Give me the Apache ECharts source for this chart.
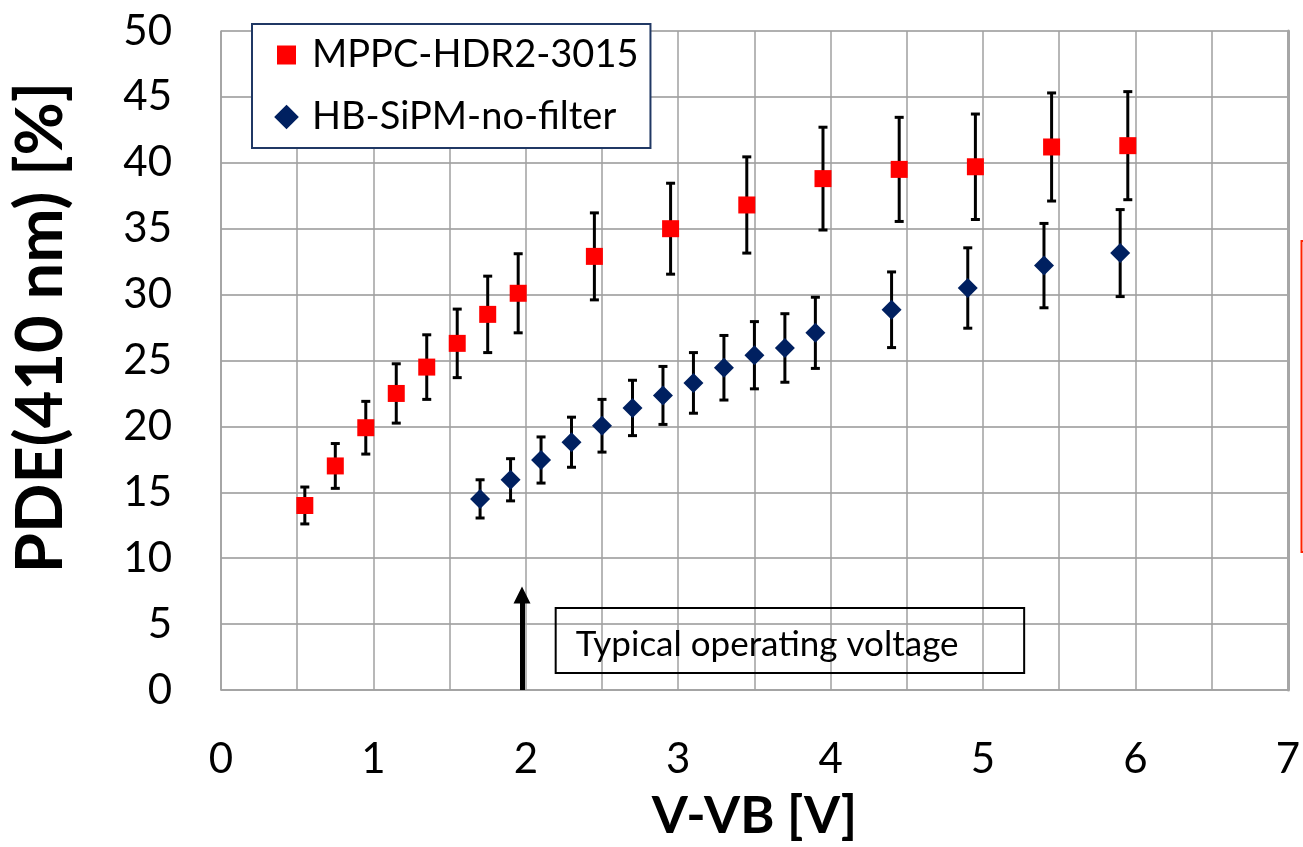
<!DOCTYPE html>
<html>
<head>
<meta charset="utf-8">
<script src="https://cdn.jsdelivr.net/npm/echarts@6/dist/echarts.min.js"></script>
<style>
  html, body { margin: 0; padding: 0; background: #fff; }
  #chart { width: 1303px; height: 847px; }
</style>
</head>
<body>
<div id="chart"></div>
<script>
// MPPC-HDR2-3015
const mppcX = [0.55, 0.75, 0.95, 1.15, 1.35, 1.55, 1.75, 1.95, 2.45, 2.95, 3.45, 3.95, 4.45, 4.95, 5.45, 5.95]
const mppcY = [14.0, 17.0, 19.9, 22.5, 24.5, 26.3, 28.5, 30.1, 32.9, 35.0, 36.8, 38.8, 39.5, 39.7, 41.2, 41.3]
const mppcErr = [1.4, 1.7, 2.0, 2.25, 2.45, 2.6, 2.9, 3.0, 3.3, 3.45, 3.65, 3.9, 3.95, 4.0, 4.1, 4.1]

// HB-SiPM-no-filter
const hbX = [1.7, 1.9, 2.1, 2.3, 2.5, 2.7, 2.9, 3.1, 3.3, 3.5, 3.7, 3.9, 4.4, 4.9, 5.4, 5.9]
const hbY = [14.5, 15.95, 17.45, 18.8, 20.05, 21.4, 22.35, 23.3, 24.45, 25.4, 25.95, 27.1, 28.85, 30.5, 32.2, 33.15]
const hbErr = [1.45, 1.6, 1.75, 1.9, 2.0, 2.1, 2.2, 2.3, 2.45, 2.55, 2.6, 2.7, 2.87, 3.05, 3.2, 3.3]

// annotation: typical operating voltage
const arrowX = 1.975
const arrowTop = 7.2
const noteBox = [[2.196, 6.22], [5.27, 1.29]]
const noteText = 'Typical operating voltage'

const names = ['MPPC-HDR2-3015', 'HB-SiPM-no-filter']
const gridColor = '#a0a0a0'
const font = 'Lato'

const points = (xs, ys) => xs.map((x, i) => [x, ys[i]])
const bars = (xs, ys, es) => xs.map((x, i) => [x, ys[i] - es[i], ys[i] + es[i]])

// 误差线
const renderErr = (params, api) => {
  const x = api.value(0)
  const lo = api.coord([x, api.value(1)])
  const hi = api.coord([x, api.value(2)])
  const hw = 4.5
  const style = { stroke: '#000', lineWidth: 3 }
  return {
    type: 'group',
    children: [
      { type: 'line', shape: { x1: hi[0], y1: hi[1], x2: lo[0], y2: lo[1] }, style },
      { type: 'line', shape: { x1: hi[0] - hw, y1: hi[1], x2: hi[0] + hw, y2: hi[1] }, style },
      { type: 'line', shape: { x1: lo[0] - hw, y1: lo[1], x2: lo[0] + hw, y2: lo[1] }, style }
    ]
  }
}

const myChart = echarts.init(document.getElementById('chart'))

const options = {
  animation: false,
  backgroundColor: '#fff',
  textStyle: { fontFamily: font, color: '#000' },
  grid: { left: 221, right: 11, top: 31, bottom: 157, containLabel: false },
  legend: {
    data: [
      { name: names[0], icon: 'rect' },
      { name: names[1], icon: 'diamond', itemStyle: { borderColor: '#002060', borderWidth: 4 } }
    ],
    orient: 'vertical',
    left: 252,
    top: 24,
    padding: [11, 12, 11, 23],
    itemWidth: 19,
    itemHeight: 19,
    itemGap: 22,
    symbolKeepAspect: true,
    borderColor: '#203864',
    borderWidth: 2,
    backgroundColor: '#fff',
    textStyle: {
      fontFamily: font,
      fontSize: 38,
      lineHeight: 40,
      color: '#000',
      padding: [0, 0, 0, 11]
    }
  },
  xAxis: {
    type: 'value',
    min: 0,
    max: 7,
    interval: 1,
    name: 'V-VB [V]',
    nameLocation: 'middle',
    nameGap: 100,
    nameTextStyle: { fontFamily: font, fontSize: 52, fontWeight: 'bold', color: '#000' },
    axisLine: { show: true, lineStyle: { color: gridColor, width: 1.5 } },
    axisTick: { show: false },
    axisLabel: { fontFamily: font, fontSize: 42, color: '#000', margin: 48 },
    splitLine: { show: true, lineStyle: { color: gridColor, width: 1.5 } },
    minorTick: { show: false, splitNumber: 2 },
    minorSplitLine: { show: true, lineStyle: { color: gridColor, width: 1.5 } }
  },
  yAxis: [
    {
      type: 'value',
      min: 0,
      max: 50,
      interval: 5,
      name: 'PDE(410 nm) [%]',
      nameLocation: 'middle',
      nameGap: 147,
      nameTextStyle: {
        fontFamily: font,
        fontSize: 65,
        fontWeight: 'bold',
        color: '#000',
        padding: [0, 0, 0, 66]
      },
      axisLine: { show: true, lineStyle: { color: gridColor, width: 1.5 } },
      axisTick: { show: false },
      axisLabel: { fontFamily: font, fontSize: 42, color: '#000', margin: 49 },
      splitLine: { show: true, lineStyle: { color: '#969696', width: 1.5 } }
    },
    {
      // 右侧边框
      type: 'value',
      min: 0,
      max: 50,
      position: 'right',
      axisLine: { show: true, lineStyle: { color: '#a6a6a6', width: 3 } },
      axisTick: { show: false },
      axisLabel: { show: false },
      splitLine: { show: false }
    }
  ],
  series: [
    {
      type: 'custom',
      name: 'err-mppc',
      renderItem: renderErr,
      data: bars(mppcX, mppcY, mppcErr),
      encode: { x: 0, y: [1, 2] },
      z: 2,
      silent: true
    },
    {
      type: 'custom',
      name: 'err-hb',
      renderItem: renderErr,
      data: bars(hbX, hbY, hbErr),
      encode: { x: 0, y: [1, 2] },
      z: 2,
      silent: true
    },
    {
      type: 'scatter',
      name: names[0],
      symbol: 'rect',
      symbolSize: 17,
      itemStyle: { color: '#ff0000', opacity: 1 },
      data: points(mppcX, mppcY),
      z: 3,
      markArea: {
        silent: true,
        itemStyle: { color: 'transparent', borderColor: '#000', borderWidth: 2 },
        label: {
          show: true,
          position: 'insideLeft',
          distance: 21,
          fontFamily: font,
          fontSize: 35,
          color: '#000',
          offset: [0, 4]
        },
        data: [[{ name: noteText, coord: noteBox[0] }, { coord: noteBox[1] }]]
      }
    },
    {
      type: 'scatter',
      name: names[1],
      symbol: 'diamond',
      symbolSize: 20,
      itemStyle: { color: '#002060', opacity: 1 },
      data: points(hbX, hbY),
      z: 3,
      markLine: {
        silent: true,
        symbol: ['none', 'triangle'],
        symbolSize: [17, 17],
        lineStyle: { color: '#000', width: 5, type: 'solid' },
        itemStyle: { color: '#000' },
        label: { show: false },
        data: [[{ coord: [arrowX, 0] }, { coord: [arrowX, arrowTop] }]]
      }
    }
  ],
  graphic: [
    {
      // 右侧红色括号(被裁切)
      type: 'polyline',
      shape: { points: [[1305, 241], [1301.5, 241], [1301.5, 552], [1305, 552]] },
      style: { stroke: '#ff2200', lineWidth: 2, fill: 'none' },
      z: 10
    }
  ]
}

myChart.setOption(options)
</script>
</body>
</html>
